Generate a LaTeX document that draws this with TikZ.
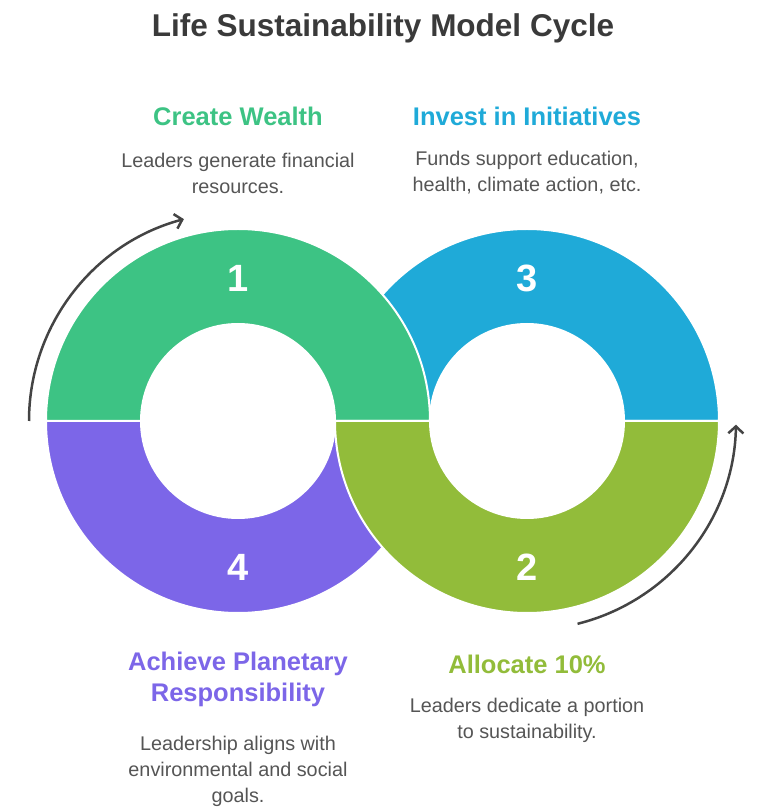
\documentclass[tikz,border=0pt]{standalone}
\usepackage{fontspec}
\setmainfont{Liberation Sans}
\usetikzlibrary{arrows.meta}
\definecolor{cgreen}{HTML}{3DC384}
\definecolor{cblue}{HTML}{1FAAD8}
\definecolor{cpurple}{HTML}{7C66E8}
\definecolor{colive}{HTML}{92BC3A}
\definecolor{ctitle}{HTML}{3A3A3A}
\definecolor{ctext}{HTML}{555555}
\definecolor{carrow}{HTML}{444444}
\begin{document}
\begin{tikzpicture}[x=1pt,y=1pt,
  seg/.style={draw=white,line width=2pt},
  cyclearrow/.style={draw=carrow,line width=2.5pt,-{Straight Barb[length=7pt,width=15pt]}},
  num/.style={text=white,font=\fontsize{38}{38}\selectfont\bfseries},
  head/.style={align=center,font=\fontsize{25.5}{31}\selectfont\bfseries},
  desc/.style={align=center,text=ctext,font=\fontsize{19.8}{26}\selectfont}]
\useasboundingbox (0,0) rectangle (768,809);
\coordinate (L) at (238,388);
\coordinate (R) at (527,388);
% blue (right top)
\path[seg,fill=cblue] ([shift={(0:192)}]R) arc[start angle=0,end angle=180,radius=192]
  -- ([shift={(180:97)}]R) arc[start angle=180,end angle=0,radius=97] -- cycle;
% purple (left bottom)
\path[seg,fill=cpurple] ([shift={(180:192)}]L) arc[start angle=180,end angle=360,radius=192]
  -- ([shift={(0:97)}]L) arc[start angle=360,end angle=180,radius=97] -- cycle;
% green (left top)
\path[seg,fill=cgreen] ([shift={(0:192)}]L) arc[start angle=0,end angle=180,radius=192]
  -- ([shift={(180:97)}]L) arc[start angle=180,end angle=0,radius=97] -- cycle;
% olive (right bottom)
\path[seg,fill=colive] ([shift={(180:192)}]R) arc[start angle=180,end angle=360,radius=192]
  -- ([shift={(0:97)}]R) arc[start angle=360,end angle=180,radius=97] -- cycle;
% arrows
\draw[cyclearrow] ([shift={(180:209)}]L) arc[start angle=180,end angle=105,radius=209];
\draw[cyclearrow] ([shift={(-76:209)}]R) arc[start angle=-76,end angle=-1,radius=209];
% numbers
\node[num] (n1) at (238,531) {1};
\node[num] (n3) at (527,531) {3};
\node[num] (n4) at (238,242) {4};
\node[num] (n2) at (527,242) {2};
% title
\node[text=ctitle,font=\fontsize{31.5}{36}\selectfont\bfseries] (title) at (383,781) {Life Sustainability Model Cycle};
% headings
\node[head,text=cgreen] (h1) at (238,693) {Create Wealth};
\node[head,text=cblue] (h3) at (527,693) {Invest in Initiatives};
\node[head,text=cpurple] (h4) at (238,130) {Achieve Planetary\\Responsibility};
\node[head,text=colive] (h2) at (527,145) {Allocate 10\%};
% descriptions
\node[desc] (d1) at (238,636) {Leaders generate financial\\resources.};
\node[desc] (d3) at (527,636) {Funds support education,\\health, climate action, etc.};
\node[desc] (d4) at (238,38) {Leadership aligns with\\environmental and social\\goals.};
\node[desc] (d2) at (527,89) {Leaders dedicate a portion\\to sustainability.};
\end{tikzpicture}
\end{document}
